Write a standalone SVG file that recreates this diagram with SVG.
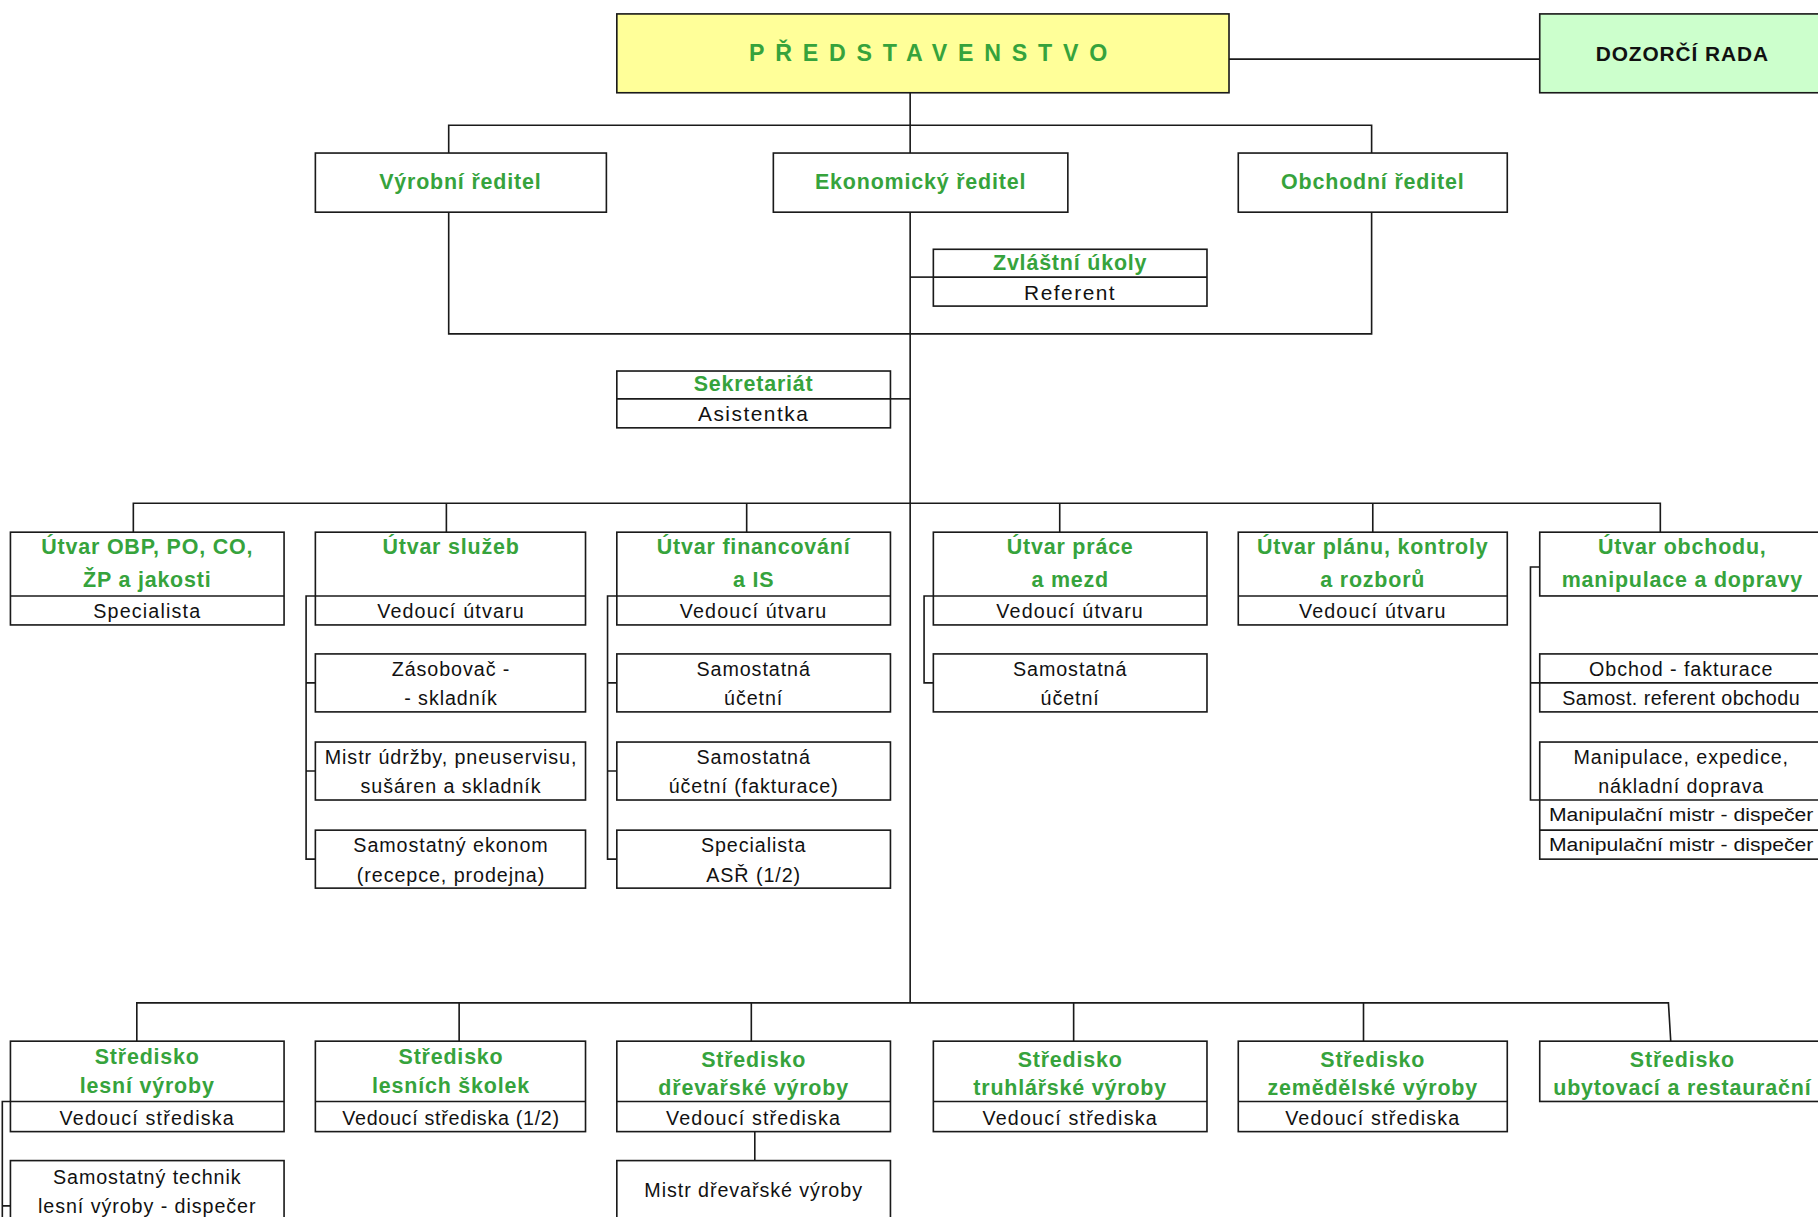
<svg xmlns="http://www.w3.org/2000/svg" width="1818" height="1217" viewBox="0 0 1818 1217">
<style>
.b{fill:#fff;stroke:#1a1a1a;stroke-width:1.4}
.sp{stroke:#1a1a1a;stroke-width:1.4;fill:none}
.c path{stroke:#1a1a1a;stroke-width:1.4;fill:none}
.t{font-family:"Liberation Sans",Arial,sans-serif;font-weight:bold;font-size:18.5px;letter-spacing:0.7px;fill:#36a33c;text-anchor:middle;dominant-baseline:central}
.s{font-family:"Liberation Sans",Arial,sans-serif;font-size:17px;letter-spacing:1px;fill:#111;text-anchor:middle;dominant-baseline:central}
.m{font-family:"Liberation Sans",Arial,sans-serif;font-size:17px;letter-spacing:0.8px;fill:#111;text-anchor:middle;dominant-baseline:central}
</style>
<rect width="1818" height="1217" fill="#fff"/>
<g transform="scale(1.15944)">
<g class="c" id="connectors">
<path d="M1060 51H1328"/>
<path d="M785 80V865"/>
<path d="M387 132V108H1183V132"/>
<path d="M387 183V288H1183V183"/>
<path d="M785 239H805"/>
<path d="M768 344H785"/>
<path d="M115 459V434H1432V459"/>
<path d="M385 434V459M644 434V459M914 434V459M1184 434V459"/>
<path d="M272 514H264V741H272M264 589H272M264 665H272"/>
<path d="M532 514H524V741H532M524 589H532M524 665H532"/>
<path d="M805 514H797V589H805"/>
<path d="M1328 489H1320V690H1328M1320 589H1328"/>
<path d="M118 898V865H1439L1441 898"/>
<path d="M396 865V898M648 865V898M926 865V898M1176 865V898"/>
<path d="M9 950H2V1060M2 1040H9"/>
<path d="M651 976V1001"/>
</g>
<g id="predstavenstvo"><rect x="532" y="12" width="528" height="68" fill="#ffff99" stroke="#1a1a1a" stroke-width="1.4"/><text class="t" x="646" y="46" style="text-anchor:start;font-size:20px;letter-spacing:0" textLength="309" lengthAdjust="spacing">PŘEDSTAVENSTVO</text></g>
<g id="dozorci-rada"><rect x="1328" y="12" width="260" height="68" fill="#ccffcc" stroke="#1a1a1a" stroke-width="1.4"/><text class="t" x="1451" y="46" style="fill:#111;font-size:18px;letter-spacing:0.8px">DOZORČÍ RADA</text></g>
<g id="vyrobni-reditel"><rect class="b" x="272" y="132" width="251" height="51"/><text class="t" x="397" y="157">Výrobní ředitel</text></g>
<g id="ekonomicky-reditel"><rect class="b" x="667" y="132" width="254" height="51"/><text class="t" x="794" y="157">Ekonomický ředitel</text></g>
<g id="obchodni-reditel"><rect class="b" x="1068" y="132" width="232" height="51"/><text class="t" x="1184" y="157">Obchodní ředitel</text></g>
<g id="zvlastni-ukoly"><rect class="b" x="805" y="215" width="236" height="49"/><path class="sp" d="M805 239H1041"/><text class="t" x="923" y="227">Zvláštní úkoly</text><text class="s" x="923" y="252" style="font-size:18px;letter-spacing:1.3px">Referent</text></g>
<g id="sekretariat"><rect class="b" x="532" y="320" width="236" height="49"/><path class="sp" d="M532 344H768"/><text class="t" x="650" y="331">Sekretariát</text><text class="s" x="650" y="357" style="font-size:18px;letter-spacing:1.3px">Asistentka</text></g>
<g id="utvar-obp"><rect class="b" x="9" y="459" width="236" height="80"/><path class="sp" d="M9 514H245"/><text class="t" x="127" y="472">Útvar OBP, PO, CO,</text><text class="t" x="127" y="500">ŽP a jakosti</text><text class="s" x="127" y="527">Specialista</text></g>
<g id="utvar-sluzeb"><rect class="b" x="272" y="459" width="233" height="80"/><path class="sp" d="M272 514H505"/><text class="t" x="389" y="472">Útvar služeb</text><text class="s" x="389" y="527">Vedoucí útvaru</text></g>
<g id="utvar-financovani"><rect class="b" x="532" y="459" width="236" height="80"/><path class="sp" d="M532 514H768"/><text class="t" x="650" y="472">Útvar financování</text><text class="t" x="650" y="500">a IS</text><text class="s" x="650" y="527">Vedoucí útvaru</text></g>
<g id="utvar-prace"><rect class="b" x="805" y="459" width="236" height="80"/><path class="sp" d="M805 514H1041"/><text class="t" x="923" y="472">Útvar práce</text><text class="t" x="923" y="500">a mezd</text><text class="s" x="923" y="527">Vedoucí útvaru</text></g>
<g id="utvar-planu"><rect class="b" x="1068" y="459" width="232" height="80"/><path class="sp" d="M1068 514H1300"/><text class="t" x="1184" y="472">Útvar plánu, kontroly</text><text class="t" x="1184" y="500">a rozborů</text><text class="s" x="1184" y="527">Vedoucí útvaru</text></g>
<g id="utvar-obchodu"><rect class="b" x="1328" y="459" width="260" height="55"/><text class="t" x="1451" y="472">Útvar obchodu,</text><text class="t" x="1451" y="500">manipulace a dopravy</text></g>
<g id="zasobovac"><rect class="b" x="272" y="564" width="233" height="50"/><text class="m" x="389" y="577">Zásobovač -</text><text class="m" x="389" y="602">- skladník</text></g>
<g id="mistr-udrzby"><rect class="b" x="272" y="640" width="233" height="50"/><text class="m" x="389" y="653">Mistr údržby, pneuservisu,</text><text class="m" x="389" y="678">sušáren a skladník</text></g>
<g id="samostatny-ekonom"><rect class="b" x="272" y="716" width="233" height="50"/><text class="m" x="389" y="729">Samostatný ekonom</text><text class="m" x="389" y="755">(recepce, prodejna)</text></g>
<g id="samostatna-ucetni-1"><rect class="b" x="532" y="564" width="236" height="50"/><text class="m" x="650" y="577">Samostatná</text><text class="m" x="650" y="602">účetní</text></g>
<g id="samostatna-ucetni-2"><rect class="b" x="532" y="640" width="236" height="50"/><text class="m" x="650" y="653">Samostatná</text><text class="m" x="650" y="678">účetní (fakturace)</text></g>
<g id="specialista-asr"><rect class="b" x="532" y="716" width="236" height="50"/><text class="m" x="650" y="729">Specialista</text><text class="m" x="650" y="755">ASŘ (1/2)</text></g>
<g id="samostatna-ucetni-3"><rect class="b" x="805" y="564" width="236" height="50"/><text class="m" x="923" y="577">Samostatná</text><text class="m" x="923" y="602">účetní</text></g>
<g id="obchod-fakturace"><rect class="b" x="1328" y="564" width="260" height="50"/><path class="sp" d="M1328 589H1588"/><text class="m" x="1450" y="577">Obchod - fakturace</text><text class="m" x="1450" y="602" style="letter-spacing:0.4px">Samost. referent obchodu</text></g>
<g id="manipulace"><rect class="b" x="1328" y="640" width="260" height="101"/><path class="sp" d="M1328 690H1588M1328 716H1588"/><text class="m" x="1450" y="653">Manipulace, expedice,</text><text class="m" x="1450" y="678">nákladní doprava</text><text class="m" x="1450" y="703" style="font-size:15.5px;letter-spacing:0" textLength="228" lengthAdjust="spacingAndGlyphs">Manipulační mistr - dispečer</text><text class="m" x="1450" y="729" style="font-size:15.5px;letter-spacing:0" textLength="228" lengthAdjust="spacingAndGlyphs">Manipulační mistr - dispečer</text></g>
<g id="stredisko-lesni"><rect class="b" x="9" y="898" width="236" height="78"/><path class="sp" d="M9 950H245"/><text class="t" x="127" y="912">Středisko</text><text class="t" x="127" y="937">lesní výroby</text><text class="s" x="127" y="964">Vedoucí střediska</text></g>
<g id="stredisko-skolek"><rect class="b" x="272" y="898" width="233" height="78"/><path class="sp" d="M272 950H505"/><text class="t" x="389" y="912">Středisko</text><text class="t" x="389" y="937">lesních školek</text><text class="s" x="389" y="964" style="letter-spacing:0.6px">Vedoucí střediska (1/2)</text></g>
<g id="stredisko-drevarske"><rect class="b" x="532" y="898" width="236" height="78"/><path class="sp" d="M532 950H768"/><text class="t" x="650" y="914">Středisko</text><text class="t" x="650" y="938">dřevařské výroby</text><text class="s" x="650" y="964">Vedoucí střediska</text></g>
<g id="stredisko-truhlarske"><rect class="b" x="805" y="898" width="236" height="78"/><path class="sp" d="M805 950H1041"/><text class="t" x="923" y="914">Středisko</text><text class="t" x="923" y="938">truhlářské výroby</text><text class="s" x="923" y="964">Vedoucí střediska</text></g>
<g id="stredisko-zemedelske"><rect class="b" x="1068" y="898" width="232" height="78"/><path class="sp" d="M1068 950H1300"/><text class="t" x="1184" y="914">Středisko</text><text class="t" x="1184" y="938">zemědělské výroby</text><text class="s" x="1184" y="964">Vedoucí střediska</text></g>
<g id="stredisko-ubytovaci"><rect class="b" x="1328" y="898" width="260" height="52"/><text class="t" x="1451" y="914">Středisko</text><text class="t" x="1451" y="938">ubytovací a restaurační</text></g>
<g id="samostatny-technik"><rect class="b" x="9" y="1001" width="236" height="60"/><text class="m" x="127" y="1015">Samostatný technik</text><text class="m" x="127" y="1040">lesní výroby - dispečer</text></g>
<g id="mistr-drevarske"><rect class="b" x="532" y="1001" width="236" height="60"/><text class="m" x="650" y="1026">Mistr dřevařské výroby</text></g>
</g>
</svg>
